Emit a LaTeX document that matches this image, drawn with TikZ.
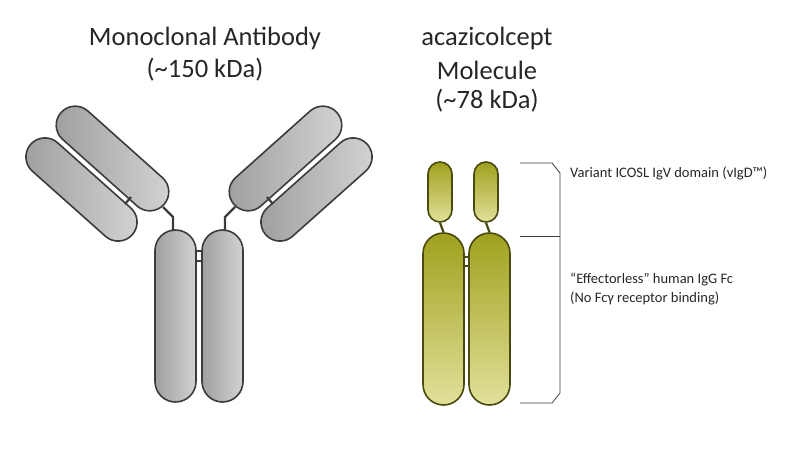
\documentclass[tikz,border=0pt]{standalone}
\usepackage{fontspec}
\setmainfont{Carlito}
\usetikzlibrary{shapes.misc}
\definecolor{gout}{HTML}{3C3C3C}
\definecolor{oout}{HTML}{4A4A0E}
\begin{document}
\begin{tikzpicture}[x=1pt,y=-1pt,
  capsule/.style={rounded rectangle, draw, line width=1.6pt, inner sep=0pt},
  grey/.style={capsule, draw=gout, left color=gray!75, right color=gray!35},
  olive/.style={capsule, draw=oout, top color={rgb,255:red,160;green,160;blue,30}, bottom color={rgb,255:red,225;green,225;blue,155}},
  link/.style={line width=2.2pt},
  txt/.style={text=black!85, font=\fontsize{14.5}{17}\selectfont, anchor=west, inner sep=0pt},
  ttl/.style={text=black!85, font=\fontsize{26.5}{30}\selectfont, inner sep=0pt}]
\useasboundingbox (0,0) rectangle (799,449);
% antibody
\node[grey, minimum width=172, minimum height=41, rotate=90] (ls) at (175.5,316) {};
\node[grey, minimum width=172, minimum height=41, rotate=90] (rs) at (222.5,316) {};
\node[grey, minimum width=138, minimum height=38, rotate=-41.8] (ua) at (112.5,158.5) {};
\node[grey, minimum width=136, minimum height=38, rotate=-41.7] (la) at (81.5,189.5) {};
\node[grey, minimum width=138, minimum height=38, rotate=41.8] (ub) at (285.5,158.5) {};
\node[grey, minimum width=136, minimum height=38, rotate=41.7] (lb) at (316.5,189.5) {};
\draw[link, gout] (163,207) -- (173,217) -- (173,231);
\draw[link, gout] (235,207) -- (225,217) -- (225,231);
\draw[link, gout] (125,204) -- (131,197);
\draw[link, gout] (273,204) -- (267,197);
\draw[link, gout] (196,251) -- (202,251);
\draw[link, gout] (196,261) -- (202,261);
% acazicolcept
\node[olive, minimum width=60, minimum height=24, rotate=90] (t1) at (440,192) {};
\node[olive, minimum width=60, minimum height=24, rotate=90] (t2) at (486,192) {};
\node[olive, minimum width=172, minimum height=41, rotate=90] (b1) at (443.5,319) {};
\node[olive, minimum width=172, minimum height=41, rotate=90] (b2) at (489.5,319) {};
\draw[link, oout] (t1.west) -- (b1.east);
\draw[link, oout] (t2.west) -- (b2.east);
\draw[link, oout] (464,257) -- (469,257);
\draw[link, oout] (464,266) -- (469,266);
% bracket
\draw[gout, line width=0.8pt] (520,163) -- (552,163) -- (560,173) -- (560,393) -- (552,403) -- (520,403);
\draw[gout, line width=0.8pt] (520,236) -- (560,236);
\node[txt] (v) at (570,173) {Variant ICOSL IgV domain (vIgD™)};
\node[txt] (e1) at (570,280) {“Effectorless” human IgG Fc};
\node[txt] (e2) at (570,298) {(No Fcγ receptor binding)};
% titles
\node[ttl] (m1) at (205,38) {Monoclonal Antibody};
\node[ttl] (m2) at (205,70) {(\textasciitilde150 kDa)};
\node[ttl] (a1) at (487,38) {acazicolcept};
\node[ttl] (a2) at (487,70) {Molecule};
\node[ttl] (a3) at (487,101) {(\textasciitilde78 kDa)};
\end{tikzpicture}
\end{document}
